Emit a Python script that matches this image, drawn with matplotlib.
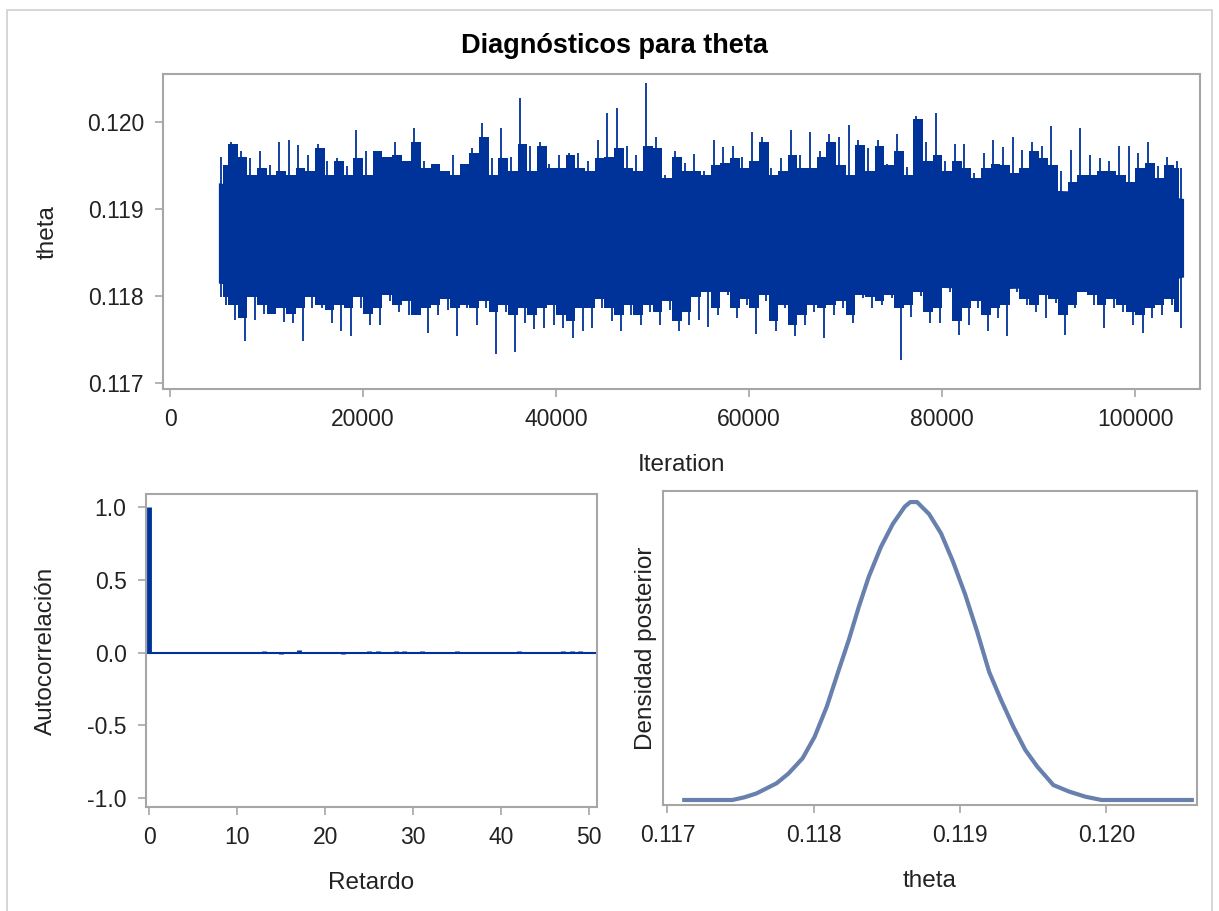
import numpy as np
import matplotlib
matplotlib.use('Agg')
import matplotlib.pyplot as plt
from matplotlib.patches import Rectangle

plt.rcParams['font.family'] = ['Liberation Sans', 'DejaVu Sans']

# ── datos: traza (extremos leidos por bloque de 1000 iteraciones) ─────────────
bin_start = np.arange(5000, 105000, 1000)

trace_upper = [
    0.11960, 0.11977, 0.11967, 0.11958, 0.11966, 0.11950, 0.11977, 0.11979, 0.11973, 0.11962,
    0.11975, 0.11955, 0.11958, 0.11949, 0.11990, 0.11966, 0.11960, 0.11960, 0.11977, 0.11955,
    0.11993, 0.11955, 0.11951, 0.11943, 0.11962, 0.11951, 0.11970, 0.11999, 0.11958, 0.11993,
    0.11960, 0.12027, 0.11972, 0.11977, 0.11952, 0.11962, 0.11964, 0.11964, 0.11955, 0.11979,
    0.12010, 0.12016, 0.11972, 0.11962, 0.12045, 0.11982, 0.11939, 0.11966, 0.11953, 0.11963,
    0.11943, 0.11979, 0.11971, 0.11972, 0.11960, 0.11988, 0.11982, 0.11947, 0.11958, 0.11990,
    0.11962, 0.11988, 0.11966, 0.11986, 0.11983, 0.11996, 0.11979, 0.11970, 0.11979, 0.11952,
    0.11986, 0.11948, 0.12007, 0.11977, 0.12010, 0.11955, 0.11975, 0.11975, 0.11941, 0.11964,
    0.11979, 0.11971, 0.11982, 0.11968, 0.11977, 0.11972, 0.11995, 0.11943, 0.11968, 0.11993,
    0.11962, 0.11958, 0.11955, 0.11972, 0.11972, 0.11964, 0.11977, 0.11949, 0.11960, 0.11955,
]
trace_lower = [
    0.11790, 0.11773, 0.11748, 0.11773, 0.11779, 0.11779, 0.11770, 0.11769, 0.11749, 0.11786,
    0.11786, 0.11769, 0.11760, 0.11754, 0.11786, 0.11767, 0.11767, 0.11794, 0.11782, 0.11778,
    0.11786, 0.11758, 0.11778, 0.11784, 0.11754, 0.11786, 0.11767, 0.11786, 0.11734, 0.11782,
    0.11736, 0.11769, 0.11762, 0.11763, 0.11767, 0.11763, 0.11752, 0.11760, 0.11763, 0.11786,
    0.11771, 0.11760, 0.11778, 0.11767, 0.11782, 0.11767, 0.11784, 0.11760, 0.11767, 0.11773,
    0.11765, 0.11778, 0.11801, 0.11775, 0.11790, 0.11757, 0.11794, 0.11760, 0.11786, 0.11754,
    0.11767, 0.11782, 0.11752, 0.11778, 0.11786, 0.11769, 0.11798, 0.11786, 0.11790, 0.11798,
    0.11727, 0.11776, 0.11800, 0.11769, 0.11769, 0.11805, 0.11756, 0.11767, 0.11786, 0.11760,
    0.11775, 0.11754, 0.11805, 0.11790, 0.11782, 0.11775, 0.11792, 0.11756, 0.11786, 0.11809,
    0.11790, 0.11764, 0.11786, 0.11782, 0.11767, 0.11758, 0.11775, 0.11778, 0.11790, 0.11763,
]
# borde de la zona solida en cada bloque
trace_mid_hi = [
    0.11950, 0.11975, 0.11960, 0.11939, 0.11947, 0.11939, 0.11943, 0.11939, 0.11947, 0.11943,
    0.11970, 0.11939, 0.11955, 0.11939, 0.11958, 0.11939, 0.11966, 0.11960, 0.11962, 0.11955,
    0.11977, 0.11947, 0.11951, 0.11943, 0.11939, 0.11951, 0.11964, 0.11982, 0.11939, 0.11958,
    0.11943, 0.11975, 0.11943, 0.11972, 0.11947, 0.11947, 0.11962, 0.11947, 0.11943, 0.11958,
    0.11960, 0.11970, 0.11947, 0.11943, 0.11972, 0.11970, 0.11935, 0.11960, 0.11943, 0.11943,
    0.11939, 0.11950, 0.11953, 0.11958, 0.11947, 0.11955, 0.11977, 0.11939, 0.11943, 0.11962,
    0.11947, 0.11947, 0.11960, 0.11977, 0.11950, 0.11939, 0.11973, 0.11943, 0.11972, 0.11950,
    0.11966, 0.11939, 0.12003, 0.11955, 0.11962, 0.11943, 0.11955, 0.11947, 0.11935, 0.11947,
    0.11952, 0.11950, 0.11941, 0.11947, 0.11966, 0.11958, 0.11950, 0.11912, 0.11931, 0.11939,
    0.11939, 0.11943, 0.11943, 0.11939, 0.11931, 0.11947, 0.11953, 0.11935, 0.11950, 0.11947,
]
trace_mid_lo = [
    0.11799, 0.11790, 0.11775, 0.11799, 0.11790, 0.11780, 0.11786, 0.11780, 0.11786, 0.11799,
    0.11790, 0.11784, 0.11790, 0.11786, 0.11799, 0.11780, 0.11786, 0.11801, 0.11790, 0.11794,
    0.11778, 0.11786, 0.11790, 0.11797, 0.11786, 0.11790, 0.11786, 0.11794, 0.11782, 0.11790,
    0.11778, 0.11786, 0.11778, 0.11786, 0.11790, 0.11778, 0.11771, 0.11786, 0.11786, 0.11797,
    0.11786, 0.11778, 0.11790, 0.11778, 0.11790, 0.11782, 0.11794, 0.11771, 0.11782, 0.11799,
    0.11805, 0.11786, 0.11805, 0.11786, 0.11797, 0.11786, 0.11801, 0.11771, 0.11790, 0.11767,
    0.11778, 0.11790, 0.11786, 0.11790, 0.11794, 0.11778, 0.11801, 0.11799, 0.11794, 0.11801,
    0.11786, 0.11790, 0.11805, 0.11782, 0.11786, 0.11809, 0.11771, 0.11786, 0.11794, 0.11778,
    0.11786, 0.11790, 0.11809, 0.11797, 0.11790, 0.11801, 0.11797, 0.11778, 0.11790, 0.11805,
    0.11801, 0.11790, 0.11797, 0.11790, 0.11782, 0.11778, 0.11786, 0.11790, 0.11797, 0.11782,
]
# banda central (zona totalmente solida) cada 5000 iteraciones
core_iter = [5000, 10000, 15000, 20000, 25000, 30000, 35000, 40000, 45000, 50000, 55000,
             60000, 65000, 70000, 75000, 80000, 85000, 90000, 95000, 100000, 105000]
core_hi = [0.11930, 0.11922, 0.11920, 0.11918, 0.11922, 0.11924, 0.11928, 0.11926, 0.11928,
           0.11930, 0.11922, 0.11925, 0.11926, 0.11928, 0.11927, 0.11926, 0.11924, 0.11922,
           0.11920, 0.11920, 0.11912]
core_lo = [0.11815, 0.11808, 0.11810, 0.11808, 0.11806, 0.11808, 0.11808, 0.11806, 0.11810,
           0.11808, 0.11812, 0.11806, 0.11806, 0.11808, 0.11808, 0.11810, 0.11808, 0.11810,
           0.11812, 0.11808, 0.11822]

# ── autocorrelacion ──────────────────────────────────────────────────────────
lags = list(range(0, 51))
acf = [1.0, 0.0, 0.0, 0.0, 0.0, 0.0, 0.0, 0.0, 0.0, 0.0,
       0.0, 0.0, 0.0, 0.01, 0.0, -0.01, 0.0, 0.02, 0.0, 0.0,
       0.0, 0.0, -0.01, 0.0, 0.0, 0.01, 0.01, 0.0, 0.01, 0.01,
       0.0, 0.01, 0.0, 0.0, 0.0, 0.01, 0.0, 0.0, 0.0, 0.0,
       0.0, 0.0, 0.01, 0.0, 0.0, 0.0, 0.0, 0.01, 0.01, 0.01, 0.0]

# ── densidad posterior (escala relativa) ─────────────────────────────────────
dens_theta = [0.117115, 0.117444, 0.117526, 0.117609, 0.117746, 0.117828, 0.117924,
              0.118006, 0.118089, 0.118171, 0.118239, 0.118308, 0.118376, 0.118459,
              0.118541, 0.118623, 0.118660, 0.118706, 0.118788, 0.118870, 0.118952,
              0.119035, 0.119117, 0.119199, 0.119281, 0.119364, 0.119446, 0.119528,
              0.119638, 0.119747, 0.119857, 0.119967, 0.120584]
dens_value = [0.0, 0.0, 0.009, 0.022, 0.056, 0.089, 0.140,
              0.212, 0.313, 0.436, 0.536, 0.648, 0.749, 0.849,
              0.927, 0.985, 1.0, 1.0, 0.960, 0.895, 0.800,
              0.690, 0.565, 0.430, 0.335, 0.246, 0.168, 0.112,
              0.050, 0.028, 0.011, 0.0, 0.0]

# ── estilo ───────────────────────────────────────────────────────────────────
TRACE = '#003399'
DENS = '#6780AD'
FRAME = '#A6A6A6'
TXT = '#222222'
TICK_FS = 16.5
LAB_FS = 17.5

fig = plt.figure(figsize=(12.19, 9.11), dpi=100)
fig.patches.append(Rectangle((0.006, -0.01), 0.988, 0.999, transform=fig.transFigure,
                             fill=False, edgecolor='#D0D0D0', linewidth=1.2))

def style(ax):
    for s in ax.spines.values():
        s.set_color(FRAME)
        s.set_linewidth(1.5)
    ax.tick_params(direction='out', length=6, width=1.2, color=FRAME,
                   labelsize=TICK_FS, labelcolor=TXT, pad=8)

# traza
ax1 = fig.add_axes([0.1340, 0.5730, 0.8504, 0.3454])
centers = bin_start + 500
ax1.fill_between(core_iter, core_lo, core_hi, color=TRACE, linewidth=0)
ax1.fill_between(centers, trace_mid_lo, trace_mid_hi, step='mid', color=TRACE, linewidth=0)
ax1.vlines(bin_start + 300, trace_mid_lo, trace_upper, color=TRACE, linewidth=1.3)
ax1.vlines(bin_start + 750, trace_lower, trace_mid_hi, color=TRACE, linewidth=1.3)
ax1.set_xlim(-700, 106700)
ax1.set_ylim(0.116935, 0.120544)
ax1.set_xticks([0, 20000, 40000, 60000, 80000, 100000])
ax1.set_yticks([0.117, 0.118, 0.119, 0.120])
ax1.set_yticklabels(['0.117', '0.118', '0.119', '0.120'])
ax1.set_xlabel('Iteration', fontsize=LAB_FS, color=TXT, labelpad=16)
ax1.set_ylabel('theta', fontsize=LAB_FS, color=TXT, labelpad=20)
style(ax1)

fig.text(0.504, 0.950, 'Diagnósticos para theta', ha='center', va='center',
         fontsize=19.5, fontweight='bold', color='black')

# autocorrelacion
ax2 = fig.add_axes([0.1198, 0.1142, 0.3700, 0.3436])
ax2.vlines(lags, 0, acf, color=TRACE, linewidth=3.5)
ax2.axhline(0, color=TRACE, linewidth=1.5)
ax2.set_xlim(-0.35, 50.9)
ax2.set_ylim(-1.06, 1.09)
ax2.set_xticks([0, 10, 20, 30, 40, 50])
ax2.set_yticks([-1.0, -0.5, 0.0, 0.5, 1.0])
ax2.set_yticklabels(['-1.0', '-0.5', '0.0', '0.5', '1.0'])
ax2.set_xlabel('Retardo', fontsize=LAB_FS, color=TXT, labelpad=16)
ax2.set_ylabel('Autocorrelación', fontsize=LAB_FS, color=TXT, labelpad=22)
style(ax2)

# densidad
ax3 = fig.add_axes([0.5439, 0.1163, 0.4381, 0.3447])
ax3.plot(dens_theta, dens_value, color=DENS, linewidth=3)
ax3.set_xlim(0.11697, 0.12062)
ax3.set_ylim(-0.017, 1.037)
ax3.set_xticks([0.117, 0.118, 0.119, 0.120])
ax3.set_xticklabels(['0.117', '0.118', '0.119', '0.120'])
ax3.set_yticks([])
ax3.set_xlabel('theta', fontsize=LAB_FS, color=TXT, labelpad=16)
ax3.set_ylabel('Densidad posterior', fontsize=LAB_FS, color=TXT, labelpad=4)
style(ax3)

plt.savefig('out.png', dpi=100)
